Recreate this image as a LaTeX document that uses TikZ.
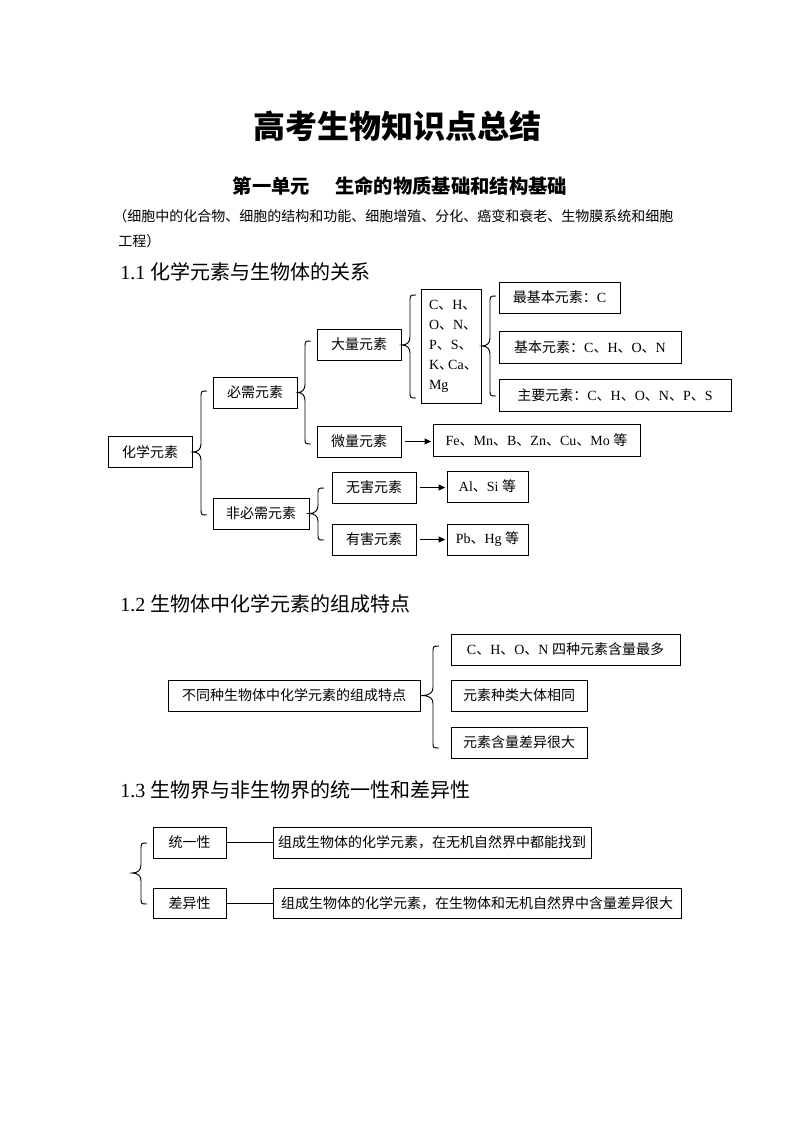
\documentclass[tikz,border=0pt]{standalone}
\usepackage{fontspec}
\setmainfont{Liberation Serif}
\newfontfamily\zhf{Noto Sans CJK SC}
\usetikzlibrary{arrows.meta}
\newcommand\zhtxt[1]{{\zhf #1}}
\newcommand\zdun{{\zhf 、}}
\newcommand\wordbrace[5]{%
  \draw[brc] ({#3+6},{#4}) .. controls ({#3},{#4}) .. ({#3},{#4+7})
    -- ({#3},{#2-8}) .. controls ({#3},{#2-3}) and ({#3-3},{#2}) .. ({#1},{#2})
    .. controls ({#3-3},{#2}) and ({#3},{#2+3}) .. ({#3},{#2+8})
    -- ({#3},{#5-7}) .. controls ({#3},{#5}) .. ({#3+6},{#5});}
\begin{document}
\begin{tikzpicture}[x=0.75pt,y=-0.75pt,
  box/.style={draw,line width=0.75pt,inner sep=0pt,font=\fontsize{10.5pt}{13pt}\selectfont},
  sz/.style 2 args={minimum width=#1*0.75pt,minimum height=#2*0.75pt},
  arr/.style={-{Triangle[length=5pt,width=4.5pt]},line width=0.75pt,shorten <=2.5pt,shorten >=1pt},
  brc/.style={line width=0.7pt},
  lnk/.style={line width=0.75pt},
  head/.style={anchor=west,inner sep=0pt,font=\fontsize{15pt}{18pt}\selectfont}]
\useasboundingbox[fill=white] (0,0) rectangle (793,1122);

% titles
\node[font=\fontsize{24pt}{28pt}\selectfont\zhf\bfseries] (title) at (397,126) {高考生物知识点总结};
\node[font=\fontsize{14.5pt}{17pt}\selectfont\zhf\bfseries] (sub) at (400,186) {第一单元\hspace{1.3em}生命的物质基础和结构基础};
\node[anchor=west,inner sep=0pt,font=\fontsize{10.5pt}{13pt}\selectfont\zhf] (p1) at (113,216) {（细胞中的化合物、细胞的结构和功能、细胞增殖、分化、癌变和衰老、生物膜系统和细胞};
\node[anchor=west,inner sep=0pt,font=\fontsize{10.5pt}{13pt}\selectfont\zhf] (p2) at (118,241) {工程）};
\node[head] (h1) at (120,272) {1.1 \zhtxt{化学元素与生物体的关系}};
\node[head] (h2) at (120,604) {1.2 \zhtxt{生物体中化学元素的组成特点}};
\node[head] (h3) at (120,790) {1.3 \zhtxt{生物界与非生物界的统一性和差异性}};

% 1.1
\node[box,sz={84}{31}] (hx) at (150,452) {\zhtxt{化学元素}};
\node[box,sz={84}{31}] (bx) at (255,392.5) {\zhtxt{必需元素}};
\node[box,sz={96}{31}] (fb) at (261,513.5) {\zhtxt{非必需元素}};
\node[box,sz={84}{31}] (dl) at (359,344.5) {\zhtxt{大量元素}};
\node[box,sz={84}{31}] (wl) at (359,441.5) {\zhtxt{微量元素}};
\node[box,sz={60}{114},text width=33pt,align=left,font=\fontsize{10.5pt}{15pt}\selectfont] (cb) at (451,346)
  {C\zdun H\zdun\\O\zdun N\zdun\\P\zdun S\zdun\\K\makebox[0.65em][l]{\zdun}Ca\zdun\\Mg};
\node[box,sz={121}{31}] (z1) at (559.5,297.5) {\zhtxt{最基本元素：}C};
\node[box,sz={182}{32}] (z2) at (590,347) {\zhtxt{基本元素：}C\zdun H\zdun O\zdun N};
\node[box,sz={232}{32}] (z3) at (615,395) {\zhtxt{主要元素：}C\zdun H\zdun O\zdun N\zdun P\zdun S};
\node[box,sz={207}{32}] (fe) at (536.5,440) {Fe\zdun Mn\zdun B\zdun Zn\zdun Cu\zdun Mo \zhtxt{等}};
\node[box,sz={84}{31}] (wh) at (374,487.5) {\zhtxt{无害元素}};
\node[box,sz={84}{31}] (yh) at (374,539.5) {\zhtxt{有害元素}};
\node[box,sz={81}{31}] (al) at (487.5,486.5) {Al\zdun Si \zhtxt{等}};
\node[box,sz={81}{31}] (pb) at (487.5,539.5) {Pb\zdun Hg \zhtxt{等}};

\wordbrace{193}{452}{201}{391}{515}
\wordbrace{298}{392.5}{305}{341}{444}
\wordbrace{402}{345}{410}{295}{398}
\wordbrace{482}{346}{490}{296}{396}
\wordbrace{309}{513.5}{318}{488}{540}

\draw[arr] (wl.east) -- (wl.east -| fe.west);
\draw[arr] (wh.east) -- (wh.east -| al.west);
\draw[arr] (yh.east) -- (yh.east -| pb.west);

% 1.2
\node[box,sz={252}{31}] (tz) at (294,695.5) {\zhtxt{不同种生物体中化学元素的组成特点}};
\node[box,sz={229}{31}] (t1) at (565.5,649.5) {C\zdun H\zdun O\zdun N \zhtxt{四种元素含量最多}};
\node[box,sz={136}{31}] (t2) at (519,695.5) {\zhtxt{元素种类大体相同}};
\node[box,sz={136}{31}] (t3) at (519,742.5) {\zhtxt{元素含量差异很大}};
\wordbrace{421}{695.5}{433}{646}{748}

% 1.3
\node[box,sz={73}{31}] (ty) at (189.5,842.5) {\zhtxt{统一性}};
\node[box,sz={73}{30}] (cy) at (189.5,903) {\zhtxt{差异性}};
\node[box,sz={318}{31}] (r1) at (432,842.5) {\zhtxt{组成生物体的化学元素，在无机自然界中都能找到}};
\node[box,sz={408}{30}] (r2) at (477,903) {\zhtxt{组成生物体的化学元素，在生物体和无机自然界中含量差异很大}};
\wordbrace{132}{873}{141}{843}{904}
\draw[lnk] (ty.east) -- (ty.east -| r1.west);
\draw[lnk] (cy.east) -- (cy.east -| r2.west);
\end{tikzpicture}
\end{document}
